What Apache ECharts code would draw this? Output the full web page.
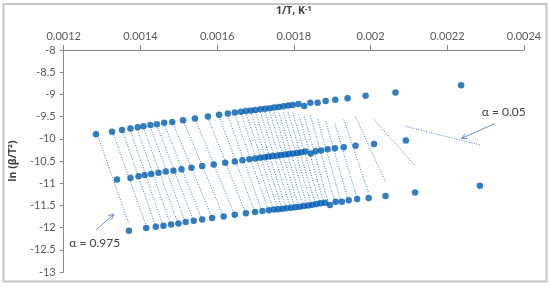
<!DOCTYPE html>
<html>
<head>
<meta charset="utf-8">
<script src="https://cdn.jsdelivr.net/npm/echarts@6/dist/echarts.min.js"></script>
<style>
  html, body { margin: 0; padding: 0; background: #fff; }
  #chart { width: 550px; height: 287px; }
</style>
</head>
<body>
<div id="chart"></div>
<script>
// conversion degrees, 0.975 (left) ... 0.05 (right)
var alphas = [0.975, 0.95, 0.925, 0.9, 0.875, 0.85, 0.825, 0.8, 0.775, 0.75,
  0.725, 0.7, 0.675, 0.65, 0.625, 0.6, 0.575, 0.55, 0.525, 0.5,
  0.475, 0.45, 0.425, 0.4, 0.375, 0.35, 0.325, 0.3, 0.275, 0.25,
  0.225, 0.2, 0.175, 0.15, 0.125, 0.1, 0.075, 0.05]

// highest heating rate
var topX = [0.001284, 0.001326, 0.001352, 0.001374, 0.001393, 0.001408, 0.001426, 0.001443, 0.001462, 0.001483,
  0.001511, 0.001542, 0.001576, 0.001605, 0.001628, 0.001646, 0.001662, 0.001675, 0.001688, 0.001700,
  0.001713, 0.001725, 0.001737, 0.001749, 0.001761, 0.001773, 0.001785, 0.001797, 0.001812, 0.001827,
  0.001843, 0.001862, 0.001883, 0.001908, 0.001940, 0.001987, 0.002065, 0.002236]
var topY = [-9.90, -9.84, -9.80, -9.77, -9.74, -9.715, -9.69, -9.67, -9.64, -9.62,
  -9.58, -9.54, -9.50, -9.46, -9.43, -9.41, -9.39, -9.374, -9.363, -9.350,
  -9.336, -9.323, -9.310, -9.296, -9.283, -9.267, -9.252, -9.236, -9.216, -9.263,
  -9.189, -9.189, -9.151, -9.122, -9.085, -9.033, -8.958, -8.795]

// middle heating rate
var midX = [0.001339, 0.001374, 0.001395, 0.001411, 0.001428, 0.001447, 0.001466, 0.001486, 0.001507, 0.001533,
  0.001561, 0.001591, 0.001621, 0.001646, 0.001666, 0.001684, 0.001699, 0.001712, 0.001724, 0.001734,
  0.001745, 0.001756, 0.001766, 0.001777, 0.001787, 0.001798, 0.001809, 0.001819, 0.001830, 0.001844,
  0.001857, 0.001871, 0.001888, 0.001907, 0.001930, 0.001961, 0.002009, 0.002092]
var midY = [-10.918, -10.882, -10.844, -10.815, -10.793, -10.762, -10.739, -10.717, -10.688, -10.650,
  -10.615, -10.577, -10.539, -10.510, -10.481, -10.459, -10.443, -10.428, -10.414, -10.401,
  -10.390, -10.379, -10.367, -10.356, -10.345, -10.332, -10.318, -10.303, -10.287, -10.332,
  -10.281, -10.265, -10.236, -10.214, -10.192, -10.154, -10.116, -10.036]

// lowest heating rate
var botX = [0.001370, 0.001415, 0.001440, 0.001460, 0.001480, 0.001499, 0.001518, 0.001539, 0.001561, 0.001587,
  0.001617, 0.001646, 0.001675, 0.001699, 0.001718, 0.001735, 0.001748, 0.001759, 0.001770, 0.001781,
  0.001793, 0.001804, 0.001815, 0.001826, 0.001837, 0.001848, 0.001859, 0.001870, 0.001881, 0.001894,
  0.001909, 0.001925, 0.001943, 0.001965, 0.001995, 0.002039, 0.002116, 0.002285]
var botY = [-12.069, -12.009, -11.980, -11.958, -11.929, -11.906, -11.875, -11.846, -11.817, -11.786,
  -11.751, -11.713, -11.675, -11.646, -11.624, -11.608, -11.595, -11.586, -11.575, -11.563,
  -11.552, -11.541, -11.528, -11.514, -11.501, -11.486, -11.470, -11.454, -11.439, -11.490,
  -11.416, -11.416, -11.385, -11.356, -11.334, -11.290, -11.207, -11.060]

var pointColor = '#005db2'
var fitColor = '#3a7cc2'
var font = 'Lato, "Open Sans", sans-serif'
var boldFont = '"Open Sans", "Noto Sans", sans-serif'

function zip (xs, ys) {
  return xs.map(function (x, i) { return [x, ys[i]] })
}

// least squares line through the three points of one alpha, drawn over their x range
function fitLine (pts) {
  var n = pts.length, sx = 0, sy = 0, sxx = 0, sxy = 0
  pts.forEach(function (p) { sx += p[0]; sy += p[1]; sxx += p[0] * p[0]; sxy += p[0] * p[1] })
  var b = (n * sxy - sx * sy) / (n * sxx - sx * sx)
  var a = (sy - b * sx) / n
  var xs = pts.map(function (p) { return p[0] })
  var x0 = Math.min.apply(null, xs), x1 = Math.max.apply(null, xs)
  return [[x0, a + b * x0], [x1, a + b * x1]]
}

var series = []
alphas.forEach(function (al, i) {
  series.push({
    name: 'fit ' + al,
    type: 'line',
    data: fitLine([[topX[i], topY[i]], [midX[i], midY[i]], [botX[i], botY[i]]]),
    symbol: 'none',
    silent: true,
    z: 1,
    lineStyle: { color: fitColor, width: 1, type: [1, 1.6] }
  })
})
;[[topX, topY], [midX, midY], [botX, botY]].forEach(function (s, k) {
  series.push({
    name: 'rate ' + (k + 1),
    type: 'scatter',
    data: zip(s[0], s[1]),
    symbol: 'circle',
    symbolSize: 6.5,
    z: 3,
    itemStyle: { color: pointColor }
  })
})

var axisLineStyle = { color: '#868686', width: 1 }
var labelStyle = { color: '#595959', fontSize: 11, fontFamily: font }

var option = {
  animation: false,
  backgroundColor: '#fff',
  grid: { left: 59, right: 26, top: 47, bottom: 15 },
  xAxis: {
    type: 'value',
    position: 'top',
    min: 0.0012,
    max: 0.0024,
    interval: 0.0002,
    name: '1/T, K{sup|-1}',
    nameLocation: 'middle',
    nameGap: 33,
    nameTextStyle: {
      color: '#404040', fontSize: 10.5, fontWeight: 'bold', fontFamily: boldFont,
      rich: { sup: { fontSize: 7.5, fontWeight: 'bold', fontFamily: boldFont, color: '#404040', verticalAlign: 'top', padding: [0, 0, 4, 0] } }
    },
    axisLine: { show: true, lineStyle: axisLineStyle },
    axisTick: { show: true, length: 5, lineStyle: axisLineStyle },
    axisLabel: Object.assign({ margin: 8, formatter: function (v) { return String(+v.toFixed(4)) } }, labelStyle),
    splitLine: { show: false }
  },
  yAxis: {
    type: 'value',
    min: -13,
    max: -8,
    interval: 0.5,
    name: 'ln (β/T²)',
    nameLocation: 'middle',
    nameGap: 36,
    nameTextStyle: { color: '#404040', fontSize: 10.5, fontWeight: 'bold', fontFamily: boldFont },
    axisLine: { show: true, onZero: false, lineStyle: axisLineStyle },
    axisTick: { show: true, length: 4, lineStyle: axisLineStyle },
    axisLabel: Object.assign({ margin: 8 }, labelStyle),
    splitLine: { show: false }
  },
  series: series
}

var chart = echarts.init(document.getElementById('chart'), null, { renderer: 'canvas' })
chart.setOption(option)

// annotations placed in data coordinates
function px (x, y) { return chart.convertToPixel({ gridIndex: 0 }, [x, y]) }
function arrow (from, to) {
  var a = px(from[0], from[1]), b = px(to[0], to[1])
  var ang = Math.atan2(b[1] - a[1], b[0] - a[0]), L = 6, w = 0.45
  var h1 = [b[0] - L * Math.cos(ang - w), b[1] - L * Math.sin(ang - w)]
  var h2 = [b[0] - L * Math.cos(ang + w), b[1] - L * Math.sin(ang + w)]
  return [
    { type: 'line', shape: { x1: a[0], y1: a[1], x2: b[0], y2: b[1] }, style: { stroke: '#6f8fc4', lineWidth: 1 } },
    { type: 'polyline', shape: { points: [h1, b, h2] }, style: { stroke: '#6f8fc4', lineWidth: 1, fill: null } }
  ]
}
function note (text, x, y) {
  var p = px(x, y)
  return { type: 'text', x: p[0], y: p[1], style: { text: text, fill: '#404040', font: '12px ' + font, verticalAlign: 'middle' } }
}

chart.setOption({
  graphic: [
    { type: 'rect', shape: { x: 3.5, y: 4, width: 543, height: 277.5 }, style: { stroke: '#c6c6c6', lineWidth: 2, fill: null } },
    note('α = 0.975', 0.0012147, -12.36),
    note('α = 0.05', 0.002290, -9.396)
  ].concat(arrow([0.001284, -12.053], [0.001331, -11.697]))
   .concat(arrow([0.002324, -9.657], [0.002237, -9.991]))
})
</script>
</body>
</html>
